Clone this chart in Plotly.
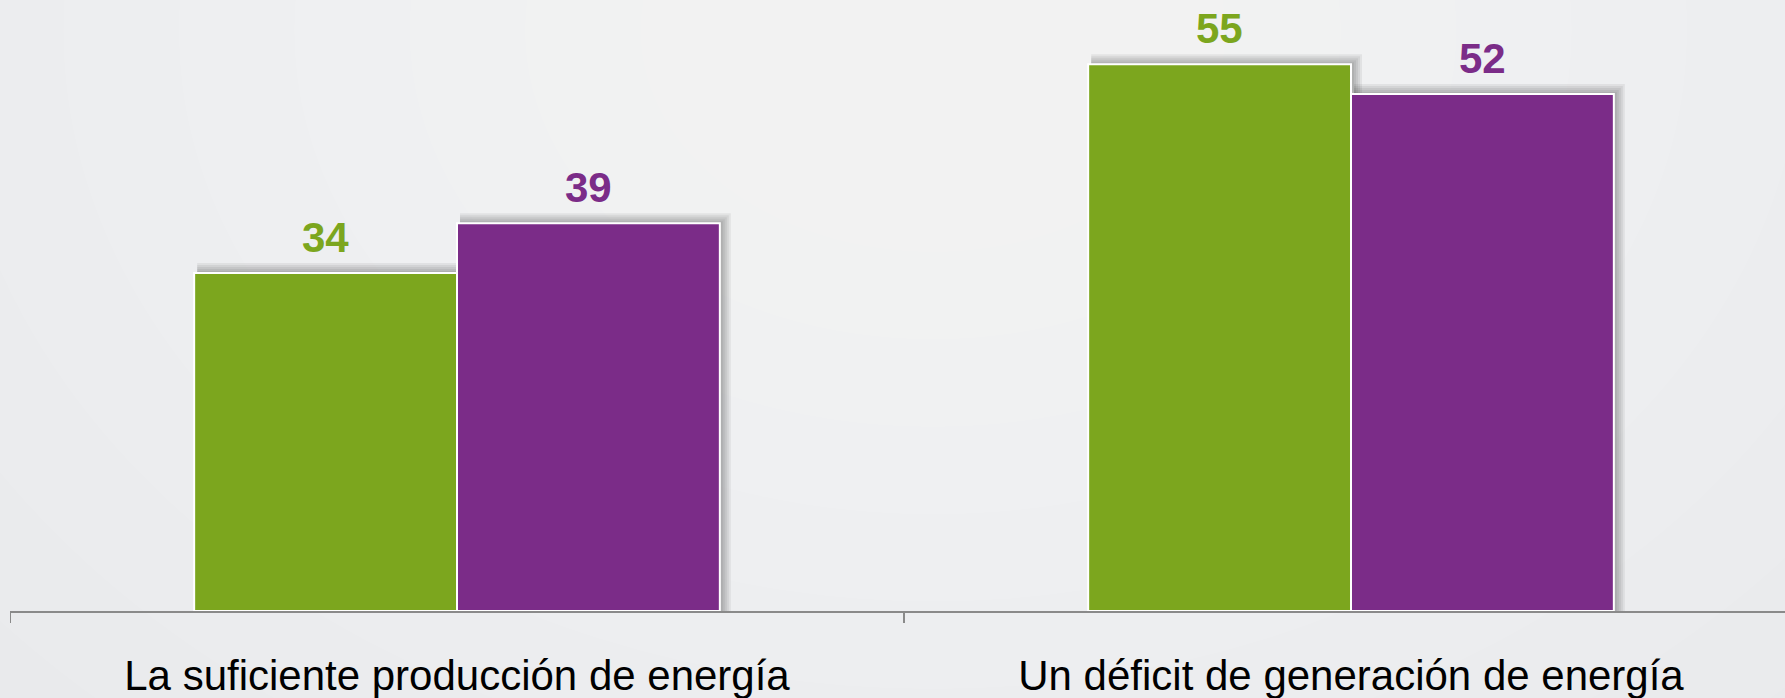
import plotly.graph_objects as go

categories = ["La suficiente producción de energía", "Un déficit de generación de energía"]
series_names = ["Serie 1", "Serie 2"]
green_values = [34, 55]
purple_values = [39, 52]

GREEN = "#7ca61e"
PURPLE = "#7b2c88"
FONT = "Arial, 'Liberation Sans', sans-serif"

CAT_PX = 894.0      # pixels per category
UNIT_PX = 9.94      # pixels per value unit
bargap = 0.412
bar_w = (1 - bargap) / 2
x_idx = list(range(len(categories)))

fig = go.Figure()

series = [(series_names[0], green_values, GREEN, -bar_w), (series_names[1], purple_values, PURPLE, 0.0)]

# soft drop shadows (drawn first, beneath bars)
for name, vals, col, off in series:
    for k in (1, 2, 3, 4, 5):
        grow = 2 * k
        fig.add_trace(go.Bar(
            x=x_idx, y=[v + grow / UNIT_PX for v in vals],
            offset=off + 3 / CAT_PX, width=bar_w + (grow - 2) / CAT_PX,
            marker=dict(color="rgba(0,0,0,0.06)", line_width=0),
            hoverinfo="skip", showlegend=False,
        ))

for name, vals, col, off in series:
    fig.add_trace(go.Bar(
        x=x_idx, y=vals, name=name, offset=off, width=bar_w,
        marker=dict(color=col, line=dict(color="white", width=2)),
        hovertemplate="%{y}<extra>" + name + "</extra>",
    ))
    for i in x_idx:
        fig.add_annotation(
            x=i + off + bar_w / 2, y=vals[i], xref="x", yref="y",
            text="<b>%d</b>" % vals[i], showarrow=False,
            yanchor="bottom", yshift=10,
            font=dict(family=FONT, size=42, color=col),
        )

# soft background glow
for k in range(10):
    r = 0.75 - k * 0.065
    fig.add_shape(type="circle", xref="paper", yref="paper",
                  x0=0.52 - r, x1=0.52 + r, y0=0.95 - r * 2.2, y1=0.95 + r * 2.2,
                  fillcolor="white", opacity=0.07, line_width=0, layer="below")

fig.update_layout(
    width=1785, height=698,
    margin=dict(l=10, r=0, t=0, b=87),
    paper_bgcolor="#e8e9eb", plot_bgcolor="rgba(0,0,0,0)",
    barmode="overlay",
    showlegend=False,
    font=dict(family=FONT, color="black"),
    xaxis=dict(
        range=[-0.5, -0.5 + 1775 / CAT_PX],
        tickmode="array", tickvals=x_idx, ticktext=categories,
        showline=True, linecolor="#8a8a8a", linewidth=2,
        ticks="", showgrid=False, zeroline=False,
        tickfont=dict(family=FONT, size=42, color="black"),
        ticklabelstandoff=27,
    ),
    yaxis=dict(range=[0, 611 / UNIT_PX], visible=False, showgrid=False, zeroline=False),
)

# tick marks at category boundaries
for b in [i - 0.5 for i in x_idx] + [x_idx[-1] + 0.5]:
    fig.add_shape(type="line", xref="x", yref="paper", x0=b, x1=b, y0=0, y1=-12 / 611,
                  line=dict(color="#8a8a8a", width=2))

fig.write_html("out.html", config={"displayModeBar": False},
               post_script="document.body.style.margin='0';document.body.style.overflow='hidden';")
